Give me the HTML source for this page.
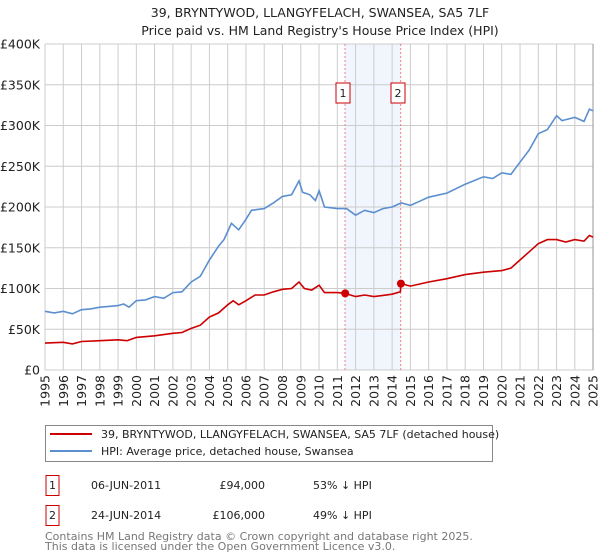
<!DOCTYPE html>
<html><head><meta charset="utf-8"><style>
body{margin:0;background:#fff;}
svg{display:block;font-family:"DejaVu Sans","Liberation Sans",sans-serif;}
</style></head><body>
<svg width="600" height="560" viewBox="0 0 600 560" xmlns="http://www.w3.org/2000/svg">
<text x="320" y="17" text-anchor="middle" font-size="12.5" fill="#222">39, BRYNTYWOD, LLANGYFELACH, SWANSEA, SA5 7LF</text>
<text x="320" y="35" text-anchor="middle" font-size="12.5" fill="#222">Price paid vs. HM Land Registry's House Price Index (HPI)</text>
<rect x="345" y="44" width="55.7" height="326" fill="#f1f5fd"/>
<g stroke="#cccccc" stroke-width="1" id="grid"></g>
<g id="lines"></g>
<g id="labels" font-size="12.5" fill="#222"></g>
<rect x="45.5" y="425.5" width="447" height="36" fill="none" stroke="#888"/>
<line x1="50" y1="434" x2="92" y2="434" stroke="#cc0000" stroke-width="2"/>
<line x1="50" y1="451" x2="92" y2="451" stroke="#5b8fd0" stroke-width="2"/>
<text x="101" y="438" font-size="11" fill="#222">39, BRYNTYWOD, LLANGYFELACH, SWANSEA, SA5 7LF (detached house)</text>
<text x="101" y="455" font-size="11" fill="#222">HPI: Average price, detached house, Swansea</text>
<rect x="46" y="475.5" width="13" height="20" fill="none" stroke="#cc0000"/>
<text x="52.5" y="489" font-size="11" text-anchor="middle" fill="#222">1</text>
<text x="91" y="489" font-size="11" fill="#222">06-JUN-2011</text>
<text x="265" y="489" font-size="11" text-anchor="end" fill="#222">£94,000</text>
<text x="313" y="489" font-size="11" fill="#222">53% ↓ HPI</text>
<rect x="46" y="505.5" width="13" height="20" fill="none" stroke="#cc0000"/>
<text x="52.5" y="519" font-size="11" text-anchor="middle" fill="#222">2</text>
<text x="91" y="519" font-size="11" fill="#222">24-JUN-2014</text>
<text x="265" y="519" font-size="11" text-anchor="end" fill="#222">£106,000</text>
<text x="313" y="519" font-size="11" fill="#222">49% ↓ HPI</text>
<text x="45" y="540" font-size="11" fill="#777">Contains HM Land Registry data © Crown copyright and database right 2025.</text>
<text x="45" y="550" font-size="11" fill="#777">This data is licensed under the Open Government Licence v3.0.</text>
<script>
var ns="http://www.w3.org/2000/svg";
function X(y){return 45+(y-1995)*18.27;}
function Y(v){return 370-v*0.815;}
function el(t,a,p){var e=document.createElementNS(ns,t);for(var k in a)e.setAttribute(k,a[k]);document.getElementById(p).appendChild(e);return e;}
for(var y=1995;y<=2025;y++){var x=X(y);el("line",{x1:x,y1:44,x2:x,y2:370},"grid");
var t=el("text",{x:0,y:0,transform:"translate("+(x+4.5)+",375) rotate(-90)","text-anchor":"end"},"labels");t.textContent=y;}
for(var v=0;v<=400;v+=50){var yy=Y(v);el("line",{x1:45,y1:yy,x2:593,y2:yy},"grid");
var t=el("text",{x:40,y:yy+4.5,"text-anchor":"end"},"labels");t.textContent=v==0?"£0":"£"+v+"K";}
el("line",{x1:593,y1:44,x2:593,y2:370,stroke:"#999"},"grid");
var blue=[[1995,72],[1995.5,70],[1996,72],[1996.5,69],[1997,74],[1997.5,75],[1998,77],[1998.5,78],[1999,79],[1999.3,81],[1999.6,77],[2000,85],[2000.5,86],[2001,90],[2001.5,88],[2002,95],[2002.5,96],[2003,108],[2003.5,115],[2004,135],[2004.5,152],[2004.8,160],[2005,170],[2005.2,180],[2005.6,172],[2006,185],[2006.3,196],[2007,198],[2007.5,205],[2008,213],[2008.5,215],[2008.9,232],[2009.1,218],[2009.5,215],[2009.8,208],[2010,220],[2010.3,200],[2011,198],[2011.5,198],[2012,190],[2012.5,196],[2013,193],[2013.5,198],[2014,200],[2014.5,205],[2015,202],[2015.5,207],[2016,212],[2017,217],[2018,228],[2019,237],[2019.5,235],[2020,242],[2020.5,240],[2021,255],[2021.5,270],[2022,290],[2022.5,295],[2023,312],[2023.3,306],[2024,310],[2024.5,305],[2024.8,320],[2025,318]];
var red=[[1995,33],[1996,34],[1996.5,32],[1997,35],[1998,36],[1999,37],[1999.5,36],[2000,40],[2001,42],[2002,45],[2002.5,46],[2003,51],[2003.5,55],[2004,65],[2004.5,70],[2005,80],[2005.3,85],[2005.6,80],[2006,85],[2006.5,92],[2007,92],[2007.5,96],[2008,99],[2008.5,100],[2008.9,108],[2009.2,100],[2009.6,98],[2010,104],[2010.3,95],[2011,95],[2011.43,94],[2012,90],[2012.5,92],[2013,90],[2014,93],[2014.45,96],[2014.48,106],[2015,103],[2016,108],[2017,112],[2018,117],[2019,120],[2020,122],[2020.5,125],[2021,135],[2021.5,145],[2022,155],[2022.5,160],[2023,160],[2023.5,157],[2024,160],[2024.5,158],[2024.8,165],[2025,163]];
function pts(a){return a.map(function(p){return X(p[0]).toFixed(1)+","+Y(p[1]).toFixed(1);}).join(" ");}
el("line",{x1:345,y1:44,x2:345,y2:370,stroke:"#f08080","stroke-dasharray":"2,2"},"lines");
el("line",{x1:400.7,y1:44,x2:400.7,y2:370,stroke:"#f08080","stroke-dasharray":"2,2"},"lines");
el("polyline",{points:pts(blue),fill:"none",stroke:"#5b8fd0","stroke-width":1.6},"lines");
el("polyline",{points:pts(red),fill:"none",stroke:"#cc0000","stroke-width":1.6},"lines");
el("circle",{cx:X(2011.43),cy:Y(94),r:4,fill:"#cc0000"},"lines");
el("circle",{cx:X(2014.48),cy:Y(106),r:4,fill:"#cc0000"},"lines");
[[338,1],[393,2]].forEach(function(b){el("rect",{x:b[0]-2,y:83,width:14,height:20,fill:"#fff",stroke:"#cc0000"},"lines");var t=el("text",{x:b[0]+5,y:97,"text-anchor":"middle","font-size":11,fill:"#222"},"lines");t.textContent=b[1];});
</script>
</svg>
</body></html>
